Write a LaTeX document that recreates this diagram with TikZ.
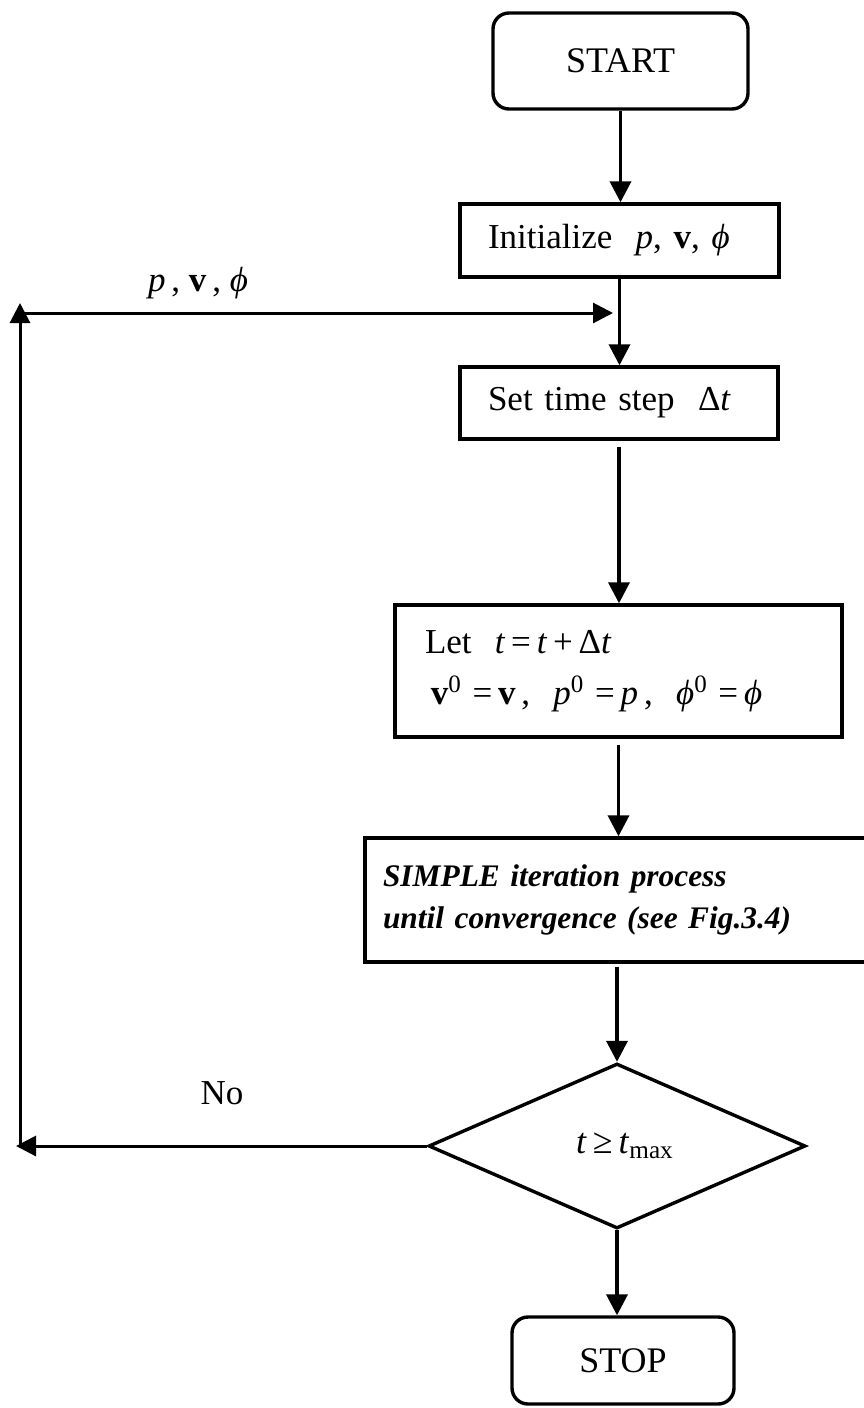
\documentclass[tikz,border=0pt]{standalone}
\usepackage{fontspec}
\setmainfont{Liberation Serif}
\usetikzlibrary{shapes.geometric,arrows.meta}
\newcommand\supzero{\raisebox{0.75ex}{\fontsize{12.5}{12.5}\selectfont 0}}
\begin{document}
\begin{tikzpicture}[x=0.5pt,y=-0.5pt,
  box/.style={draw,line width=1.7pt,inner ysep=0pt},
  term/.style={box,rounded corners=8pt,align=center},
  arr/.style={line width=1.8pt,-{Triangle[length=10.5pt,width=10.5pt]}},
  thinarr/.style={line width=1.5pt,-{Triangle[length=10pt,width=10pt]}},
  font=\fontsize{17.5}{21}\selectfont]
\useasboundingbox (0,0) rectangle (863,1408);
\fill[white] (0,0) rectangle (863,1408);
\node[term,minimum width=127.5pt,minimum height=48pt,font=\fontsize{18}{21}\selectfont] (start) at (620.5,61) {START};
\node[box,minimum height=36.5pt,text width=131.5pt,inner xsep=14pt,align=left] (init) at (619.5,240.5) {Initialize\ \ \textit{p}, \textbf{v}, \textit{ϕ}};
\node[box,minimum height=36pt,text width=131pt,inner xsep=14pt,align=left] (set) at (619,403) {Set time step\ \ Δ\textit{t}};
\node[box,minimum height=66pt,text width=193.5pt,inner xsep=15pt,align=left,font=\fontsize{17.5}{25.5}\selectfont] (let) at (618.5,671) {Let\ \ \textit{t}\,=\,\textit{t}\,+\,Δ\textit{t}\\[0pt]
\,\textbf{v}\supzero\,\,=\,\textbf{v}\,,\ \ \textit{p}\supzero\,\,=\,\textit{p}\,,\ \ \textit{ϕ}\supzero\,\,=\,\textit{ϕ}};
\node[box,minimum height=62pt,text width=233.5pt,inner xsep=9pt,align=left,font=\fontsize{15.7}{21}\selectfont\bfseries\itshape] (simple) at (616.5,900) {SIMPLE iteration process\\until convergence (see Fig.3.4)};
\node[draw,diamond,line width=1.7pt,minimum width=188.5pt,minimum height=82.5pt,inner sep=0pt,font=\fontsize{18}{21}\selectfont] (dec) at (617,1146) {\hspace*{8pt}\textit{t}\,≥\,\textit{t}\textsubscript{max}};
\node[term,minimum width=111pt,minimum height=43.5pt,font=\fontsize{18}{21}\selectfont] (stop) at (623,1360.5) {STOP};
\node (lblpv) at (198,283) {\textit{p}\,, \textbf{v}\,, \textit{ϕ}};
\node (lblno) at (222,1093) {No};
\coordinate (noTip) at (16,1146);
\coordinate (loopBottom) at (20,1146);
\coordinate (loopTop) at (20,303);
\coordinate (loopCorner) at (20,313);
\coordinate (join) at (619,313);
\draw[arr] (start.south) -- (start.south |- init.north);
\draw[arr] (init.south) -- (init.south |- set.north);
\draw[arr,shorten <=3pt] (set.south) -- (set.south |- let.north);
\draw[arr,shorten <=3pt] (let.south) -- (let.south |- simple.north);
\draw[arr,shorten <=1.5pt] (simple.south -| dec.north) -- (dec.north);
\draw[arr] (dec.south) -- (dec.south |- stop.north);
\draw[thinarr] (dec.west) -- (noTip);
\draw[thinarr] (loopBottom) -- (loopTop);
\draw[thinarr,shorten >=3pt] (loopCorner) -- (join);
\end{tikzpicture}
\end{document}
